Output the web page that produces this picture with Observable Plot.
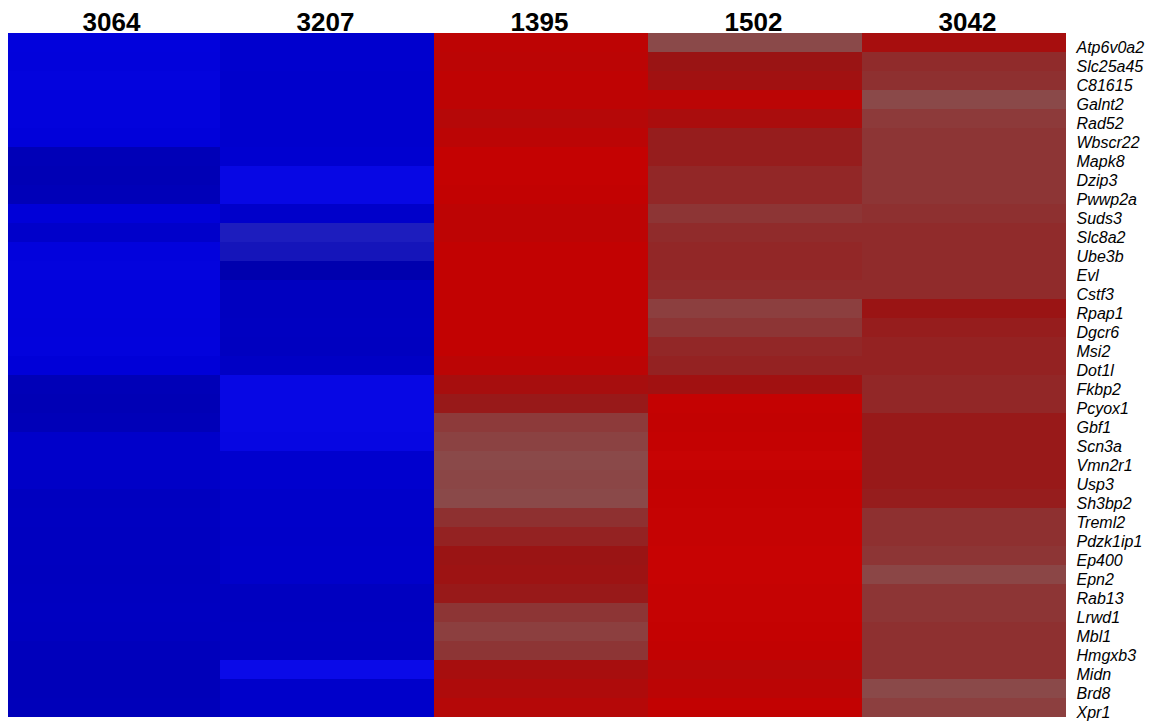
<!DOCTYPE html>
<html>
<head>
<meta charset="utf-8">
<script src="https://cdn.jsdelivr.net/npm/d3@7"></script>
<script src="https://cdn.jsdelivr.net/npm/@observablehq/plot@0.6"></script>
<style>
  html, body { margin: 0; padding: 0; background: #ffffff; }
  #chart svg { display: block; }
</style>
</head>
<body>
<div id="chart"></div>
<script>
// Samples (columns) and genes (rows) of the expression heatmap
const samples = ["3064", "3207", "1395", "1502", "3042"];
const genes = ["Atp6v0a2","Slc25a45","C81615","Galnt2","Rad52","Wbscr22","Mapk8","Dzip3","Pwwp2a","Suds3",
  "Slc8a2","Ube3b","Evl","Cstf3","Rpap1","Dgcr6","Msi2","Dot1l","Fkbp2","Pcyox1","Gbf1","Scn3a","Vmn2r1",
  "Usp3","Sh3bp2","Treml2","Pdzk1ip1","Ep400","Epn2","Rab13","Lrwd1","Mbl1","Hmgxb3","Midn","Brd8","Xpr1"];

// Relative expression per sample (negative = down, positive = up), one value per gene
const s3064 = [-0.85,-0.84,-0.86,-0.85,-0.85,-0.83,-0.42,-0.4,-0.44,-0.8,-0.65,-0.85,-0.86,-0.85,-0.85,-0.84,-0.85,-0.8,
  -0.42,-0.4,-0.44,-0.65,-0.65,-0.62,-0.55,-0.56,-0.55,-0.55,-0.54,-0.55,-0.56,-0.55,-0.5,-0.45,-0.45,-0.47];
const s3207 = [-0.7,-0.7,-0.68,-0.7,-0.7,-0.7,-0.72,-0.95,-0.95,-0.65,-0.1,-0.15,-0.3,-0.55,-0.55,-0.56,-0.55,-0.6,
  -0.95,-0.95,-0.95,-0.92,-0.7,-0.7,-0.65,-0.65,-0.64,-0.65,-0.65,-0.55,-0.55,-0.56,-0.55,-1,-0.65,-0.65];
const s1395 = [0.86,0.85,0.88,0.86,0.8,0.85,0.92,0.92,0.9,0.86,0.86,0.9,0.9,0.9,0.9,0.9,0.9,0.85,
  0.7,0.55,0.2,0.12,0.05,0.08,0.05,0.3,0.45,0.6,0.62,0.55,0.25,0.15,0.25,0.7,0.75,0.8];
const s1502 = [0.05,0.6,0.65,0.85,0.72,0.5,0.5,0.4,0.4,0.25,0.35,0.4,0.4,0.35,0.15,0.25,0.4,0.45,
  0.65,0.92,0.9,0.92,0.95,0.9,0.92,0.93,0.93,0.95,0.95,0.93,0.93,0.92,0.9,0.82,0.85,0.9];
const s3042 = [0.7,0.35,0.3,0.05,0.2,0.25,0.25,0.25,0.25,0.3,0.35,0.35,0.35,0.35,0.6,0.5,0.45,0.45,
  0.4,0.4,0.55,0.55,0.55,0.55,0.5,0.3,0.3,0.25,0.08,0.25,0.25,0.3,0.3,0.3,0.05,0.15];

const series = {"3064": s3064, "3207": s3207, "1395": s1395, "1502": s1502, "3042": s3042};
const cells = samples.flatMap(s => genes.map((g, i) => ({sample: s, gene: g, value: series[s][i]})));

const chart = Plot.plot({
  width: 1151,
  height: 721,
  marginTop: 33,
  marginBottom: 4,
  marginLeft: 8,
  marginRight: 85,
  style: {background: "#ffffff", fontFamily: "Arial, 'Liberation Sans', sans-serif"},
  // the last column runs under the gene labels and is cut at the frame edge
  x: {domain: samples, padding: 0, range: [6, 1076], label: null},
  y: {domain: genes, padding: 0, label: null},
  color: {
    type: "linear",
    interpolate: "rgb",
    domain: [-1, -0.8, -0.55, -0.3, -0.02, 0.02, 0.3, 0.6, 0.9, 1],
    range: ["#0a0ae8", "#0000d8", "#0000c0", "#0000ae", "#2828c4",
            "#8a4c4c", "#8e3030", "#9a1414", "#c20202", "#cc0404"]
  },
  marks: [
    Plot.cell(cells, {x: "sample", y: "gene", fill: "value", inset: 0, clip: true, shapeRendering: "crispEdges"}),
    Plot.axisX({anchor: "top", tickSize: 0, tickPadding: 3, fontSize: 26, fontWeight: "bold", fill: "#000", dx: -2, label: null}),
    Plot.axisY({anchor: "right", tickSize: 0, tickPadding: 10, fontSize: 16, fontStyle: "italic", fill: "#000", dy: 5, label: null})
  ]
});

document.getElementById("chart").appendChild(chart);
</script>
</body>
</html>
